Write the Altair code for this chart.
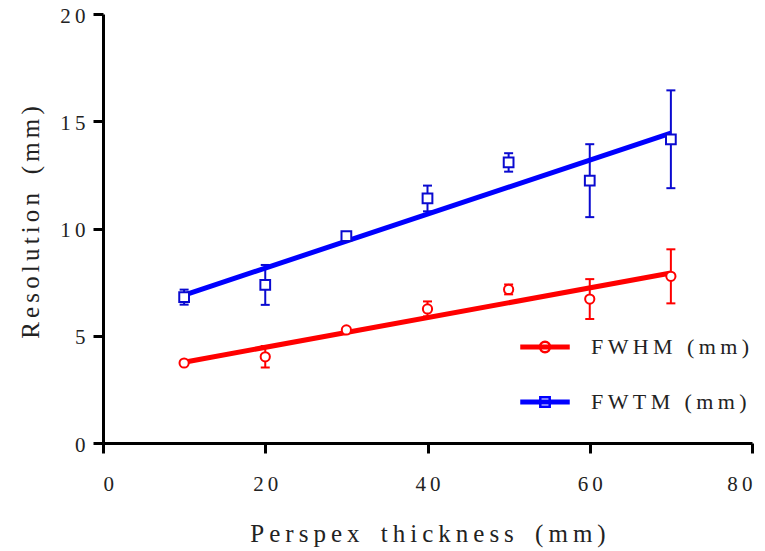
import altair as alt
import pandas as pd

# ---- data ----
thickness = [10, 20, 30, 40, 50, 60, 70]
fwhm = [3.73, 4.02, 5.27, 6.25, 7.16, 6.71, 7.77]
fwhm_err = [0.05, 0.50, 0.05, 0.35, 0.23, 0.93, 1.26]
fwtm = [6.80, 7.37, 9.65, 11.40, 13.08, 12.23, 14.16]
fwtm_err = [0.35, 0.93, 0.15, 0.60, 0.43, 1.70, 2.28]
series_names = ["FWHM (mm)", "FWTM (mm)"]
series_colors = ["#FF0000", "#0000FF"]
bar_colors = ["#FF0000", "#0A0AD0"]
x_ticks = [0, 20, 40, 60, 80]
y_ticks = [0, 5, 10, 15, 20]
x_title = "Perspex thickness (mm)"
y_title = "Resolution (mm)"

THIN = "\u2009"
SIXTH = "\u2006"


def spaced(s, sep=THIN, gap=THIN + " " + THIN + THIN):
    return gap.join(sep.join(w) for w in s.split(" "))


rows = []
for name, vals, errs in [(series_names[0], fwhm, fwhm_err), (series_names[1], fwtm, fwtm_err)]:
    for t, v, e in zip(thickness, vals, errs):
        rows.append({"series": name, "thickness": t, "value": v, "lo": v - e, "hi": v + e})
df = pd.DataFrame(rows)

FONT = "Liberation Serif"
space_expr = "join(split(datum.label, ''), '" + THIN + "')"

xscale = alt.Scale(domain=[0, 80], nice=False, zero=False)
yscale = alt.Scale(domain=[0, 20], nice=False, zero=False)
xaxis = alt.Axis(values=x_ticks, title=spaced(x_title), labelPadding=20, titlePadding=27,
                 labelExpr=space_expr)
yaxis = alt.Axis(values=y_ticks, title=spaced(y_title, SIXTH, SIXTH + " " + SIXTH + SIXTH),
                 labelPadding=8, labelOffset=2, titlePadding=16, titleY=208,
                 labelExpr=space_expr)


def cenc(rng, legend=None):
    return alt.Color("series:N", scale=alt.Scale(domain=series_names, range=rng), legend=legend)


X = alt.X("thickness:Q", scale=xscale, axis=xaxis)

base = alt.Chart(df)

err_rule = base.mark_rule(strokeWidth=2).encode(
    x=X,
    y=alt.Y("lo:Q", scale=yscale, axis=yaxis),
    y2="hi:Q",
    color=cenc(bar_colors),
)
cap_lo = base.mark_tick(orient="horizontal", size=9, thickness=2, opacity=1).encode(
    x=X,
    y=alt.Y("lo:Q", scale=yscale, axis=yaxis),
    color=cenc(bar_colors),
)
cap_hi = base.mark_tick(orient="horizontal", size=9, thickness=2, opacity=1).encode(
    x=X,
    y=alt.Y("hi:Q", scale=yscale, axis=yaxis),
    color=cenc(bar_colors),
)
fit = base.transform_regression(
    "thickness", "value", groupby=["series"]
).mark_line(strokeWidth=5).encode(
    x=X,
    y=alt.Y("value:Q", scale=yscale, axis=yaxis),
    color=cenc(series_colors),
)
pts_c = base.transform_filter(alt.datum.series == series_names[0]).mark_point(
    shape="circle", size=85, strokeWidth=2, filled=False, fill="white", opacity=1
).encode(
    x=X,
    y=alt.Y("value:Q", scale=yscale, axis=yaxis),
    color=cenc(bar_colors),
)
pts_s = base.transform_filter(alt.datum.series == series_names[1]).mark_point(
    shape="square", size=95, strokeWidth=2, filled=False, fill="white", opacity=1
).encode(
    x=X,
    y=alt.Y("value:Q", scale=yscale, axis=yaxis),
    color=cenc(bar_colors),
)

line_rect = "M-1,-0.055H1V0.055H-1Z"
circle_path = line_rect + "M0.22,0A0.22,0.22 0 1,1 -0.22,0A0.22,0.22 0 1,1 0.22,0Z"
square_path = line_rect + "M-0.2,-0.2H0.2V0.2H-0.2Z"

legend = alt.Legend(
    title=None, orient="none", legendX=417, legendY=308, symbolSize=2209,
    symbolStrokeWidth=2.5, labelFont=FONT, labelFontSize=22, labelColor="#222222",
    labelOffset=21, rowPadding=19, padding=0, labelExpr=space_expr,
)
legend_layer = base.mark_point(
    filled=False, strokeWidth=2, opacity=1, size=0
).encode(
    x=X,
    y=alt.Y("value:Q", scale=yscale, axis=yaxis),
    color=cenc(series_colors, legend),
    shape=alt.Shape("series:N", scale=alt.Scale(domain=series_names, range=[circle_path, square_path]),
                    legend=legend),
)

chart = alt.layer(err_rule, cap_lo, cap_hi, fit, pts_c, pts_s, legend_layer).resolve_scale(
    color="independent", shape="independent"
).properties(
    width=649, height=429,
    autosize=alt.AutoSizeParams(type="none"),
    padding={"left": 95, "top": 6, "right": 5, "bottom": 108},
).configure_view(stroke=None).configure_axis(
    grid=False,
    domainColor="black", domainWidth=3,
    tickColor="black", tickWidth=3, tickSize=10,
    labelFont=FONT, labelFontSize=21, labelColor="#222222",
    titleFont=FONT, titleFontSize=25, titleFontWeight="normal", titleColor="#222222",
)

chart.save("out.html", embed_options={"renderer": "svg", "actions": False})
